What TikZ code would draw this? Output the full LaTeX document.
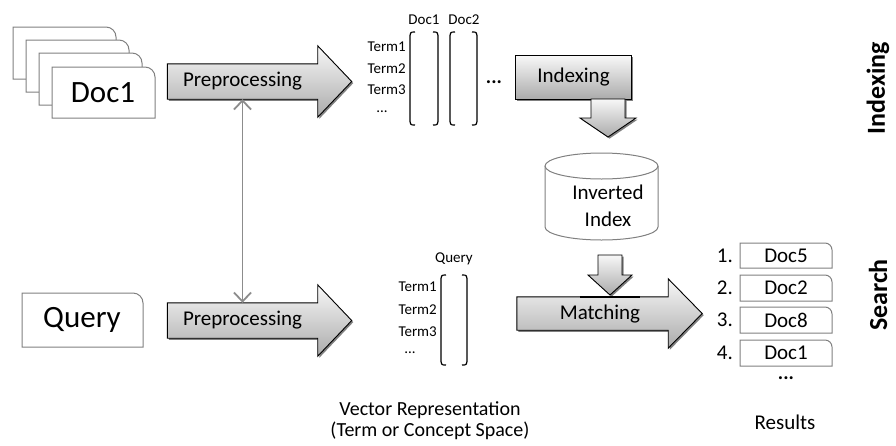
\documentclass[tikz,border=0pt]{standalone}
\usepackage{fontspec}
\setmainfont{Carlito}
\usetikzlibrary{calc,arrows.meta}
\newcommand\fsz[1]{\fontsize{#1}{#1}\selectfont}
% horizontal block arrow around a body node
\newcommand\harrow[1]{%
  \path[shadowfill] (#1.north west) -- (#1.north east) -- ([yshift=18pt]#1.north east) -- ([xshift=34pt]#1.east) -- ([yshift=-18pt]#1.south east) -- (#1.south east) -- (#1.south west) -- cycle;
  \path[arrowfill] (#1.north west) -- (#1.north east) -- ([yshift=18pt]#1.north east) -- ([xshift=34pt]#1.east) -- ([yshift=-18pt]#1.south east) -- (#1.south east) -- (#1.south west) -- cycle;}
% vertical block arrow: cx, ytop, ymid, ytip, body half, head half
\newcommand\varrow[6]{%
  \path[shadowfill] ({#1-#5},#2) -- ({#1-#5},#3) -- ({#1-#6},#3) -- (#1,#4) -- ({#1+#6},#3) -- ({#1+#5},#3) -- ({#1+#5},#2) -- cycle;
  \path[arrowfill] ({#1-#5},#2) -- ({#1-#5},#3) -- ({#1-#6},#3) -- (#1,#4) -- ({#1+#6},#3) -- ({#1+#5},#3) -- ({#1+#5},#2) -- cycle;}
% page with rounded top-right corner: name, x1, y1, x2, y2, radius
\newcommand\pagebox[6]{%
  \draw[pg] (#2,#5) -- (#2,#3) -- ({#4-#6},#3) arc[start angle=90,end angle=0,radius=#6pt] -- (#4,#5) -- cycle;
  \coordinate (#1) at ({(#2+#4)/2},{(#3+#5)/2});}
% brackets: x1, x2, ytop, ybot
\newcommand\vecbrackets[4]{%
  \draw[brk] ({#1+5},#3) .. controls (#1,#3) .. (#1,{#3+8}) -- (#1,{#4-8}) .. controls (#1,#4) .. ({#1+5},#4);
  \draw[brk] ({#2-5},#3) .. controls (#2,#3) .. (#2,{#3+8}) -- (#2,{#4-8}) .. controls (#2,#4) .. ({#2-5},#4);}
\begin{document}
\begin{tikzpicture}[x=1pt,y=-1pt,
  shadowfill/.style={fill=black!50, transform canvas={shift={(1.6pt,-1.6pt)}}},
  arrowfill/.style={draw=black, line width=0.9pt, top color=black!3, bottom color=black!33},
  pg/.style={draw=black!50, fill=white, line width=1pt},
  brk/.style={draw=black, line width=1.2pt},
  body/.style={inner sep=0pt, draw=none, minimum height=35pt, minimum width=150pt},
  txt/.style={inner sep=0pt},
  term/.style={inner sep=0pt, font=\fsz{15}, anchor=east},
  mid/.style={inner sep=0pt, font=\fsz{21}},
  big/.style={inner sep=0pt, font=\fsz{31}},
  side/.style={inner sep=0pt, rotate=90, font=\bfseries\fsz{26}},
  grayarr/.style={draw=black!45, line width=1.8pt, {Straight Barb[length=9pt,width=17pt]}-{Straight Barb[length=9pt,width=17pt]}}
]
\useasboundingbox (0,0) rectangle (896,445);

% ---------- document stack ----------
\pagebox{d4}{13}{27}{116}{79}{10}
\pagebox{d3}{26}{40}{129}{92}{10}
\pagebox{d2}{39}{53}{142}{105}{10}
\pagebox{d1}{52}{67}{155}{118}{10}
\node[big] (doct) at (103,93) {Doc1};

% ---------- query box ----------
\pagebox{q}{22}{293}{143}{347}{10}
\node[big] (queryt) at (82,320) {Query};

% ---------- preprocessing arrows ----------
\node[body] (pre1) at (242.5,81.5) {};
\harrow{pre1}
\node[mid] (pre1t) at (pre1) {Preprocessing};

\node[body] (pre2) at (242.5,320.5) {};
\harrow{pre2}
\node[mid] (pre2t) at (pre2) {Preprocessing};

\draw[grayarr] (pre1.south) -- (pre2.north);

% ---------- document vectors ----------
\node[txt, font=\fsz{15}] (cd1) at (424,20) {Doc1};
\node[txt, font=\fsz{15}] (cd2) at (464,20) {Doc2};
\node[term] (t1) at (406,47) {Term1};
\node[term] (t2) at (406,69) {Term2};
\node[term] (t3) at (406,90) {Term3};
\node[txt, font=\fsz{15}] (t4) at (382,112) {...};
\vecbrackets{410}{438}{32}{125}
\vecbrackets{450}{477}{32}{125}
\node[txt, font=\bfseries\fsz{20}] (dots1) at (494,82) {...};

% ---------- indexing ----------
\node[inner sep=0pt, minimum width=115pt, minimum height=43pt] (idx) at (573.5,77.5) {};
\path[shadowfill] (idx.north west) rectangle (idx.south east);
\path[arrowfill] (idx.north west) rectangle (idx.south east);
\node[mid] (idxt) at (idx) {Indexing};

\varrow{608}{99}{118}{137}{17}{28}

% ---------- inverted index cylinder ----------
\path[fill=white] (545,166) -- (545,227) arc[start angle=180,end angle=360,x radius=56.5pt,y radius=13pt] -- (658,166) -- cycle;
\draw[pg] (545,166) -- (545,227) arc[start angle=180,end angle=360,x radius=56.5pt,y radius=13pt] -- (658,166);
\draw[pg] (601.5,166) ellipse[x radius=56.5pt,y radius=13pt];
\coordinate (inv) at (601.5,200);
\node[mid] (invt1) at (608,192) {Inverted};
\node[mid] (invt2) at (608,219) {Index};

% ---------- query vector ----------
\node[txt, font=\fsz{15}] (cq) at (454,259) {Query};
\node[term] (q1) at (437,287) {Term1};
\node[term] (q2) at (437,310) {Term2};
\node[term] (q3) at (437,332) {Term3};
\node[txt, font=\fsz{15}] (q4) at (410,353) {...};
\vecbrackets{441}{467}{275}{365}

\node[txt, font=\fsz{20}] (vr1) at (430,410) {Vector Representation};
\node[txt, font=\fsz{20}] (vr2) at (430,431) {(Term or Concept Space)};

% ---------- matching ----------
\node[body, minimum width=151pt, minimum height=33pt] (mat) at (592.5,313.5) {};
\harrow{mat}
\node[mid] (matt) at (600,314) {Matching};
\varrow{610}{255}{275}{295}{12}{22}
\draw[line width=2.2pt] (580,297) -- (640,297);

% ---------- results ----------
\pagebox{r1}{740}{243}{832}{268}{7}
\pagebox{r2}{740}{275}{832}{301}{7}
\pagebox{r3}{740}{307}{832}{333}{7}
\pagebox{r4}{740}{340}{832}{366}{7}
\node[mid] (r1t) at (r1) {Doc5};
\node[mid] (r2t) at (r2) {Doc2};
\node[mid] (r3t) at (r3) {Doc8};
\node[mid] (r4t) at (r4) {Doc1};
\node[mid, anchor=east] (n1) at (733,256) {1.};
\node[mid, anchor=east] (n2) at (733,288) {2.};
\node[mid, anchor=east] (n3) at (733,320) {3.};
\node[mid, anchor=east] (n4) at (733,353) {4.};
\node[txt, font=\bfseries\fsz{20}] (rdots) at (786,378) {...};
\node[mid] (rest) at (785,422) {Results};

% ---------- side labels ----------
\node[side] (lidx) at (878,88) {Indexing};
\node[side] (lsrch) at (878,295) {Search};
\end{tikzpicture}
\end{document}
